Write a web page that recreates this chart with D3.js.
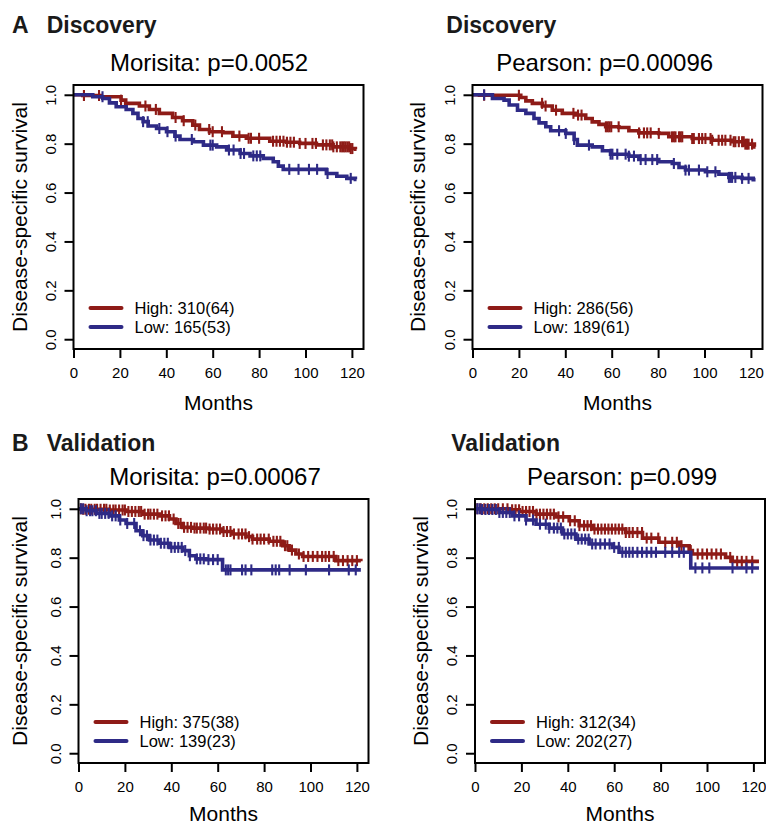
<!DOCTYPE html>
<html>
<head>
<meta charset="utf-8">
<script src="https://cdn.jsdelivr.net/npm/d3@7"></script>
<style>
  body { margin: 0; background: #fff; }
  svg { display: block; font-family: "Liberation Sans", Arial, sans-serif; }
</style>
</head>
<body>
<div id="chart"></div>
<script>
// ---- data: KM steps [month, survival] and censor times ----
var discMorHigh = [[0,1],[4,0.997],[12,0.992],[20.5,0.978],[22.5,0.965],[28.4,0.954],[32.7,0.94],[37,0.924],
  [42.7,0.907],[47,0.894],[51.4,0.876],[54.3,0.858],[58.6,0.849],[64.4,0.845],[68.7,0.831],[74.5,0.822],
  [84.6,0.81],[91.8,0.806],[97.5,0.801],[104.7,0.795],[111.9,0.787],[119,0.78],[121.5,0.777],[122,0.777]];
var discMorHighCens = [4.5,11,20.5,31,35.5,44,47.5,52.5,58.5,60,64,71.5,75.5,76.5,80,86,87.5,89,90.5,92,93.5,
  95,97.5,100,103,104.5,107.5,109,110.5,111.5,112,113.5,115,115.8,116.5,117.2,118,118.8,119.5,120.2];
var discMorLow = [[0,1],[8.3,0.992],[12.6,0.985],[15.5,0.967],[18.4,0.951],[22.7,0.94],[25.6,0.924],[27.8,0.903],
  [30,0.89],[32.2,0.872],[35.8,0.862],[40.1,0.849],[43.7,0.831],[45.9,0.817],[51.7,0.808],[56,0.794],
  [61.7,0.787],[66,0.774],[71.8,0.76],[76.1,0.75],[81.8,0.74],[86.1,0.726],[88.3,0.708],[90.4,0.695],
  [109,0.678],[113.5,0.667],[117.8,0.658],[121.5,0.654],[122,0.654]];
var discMorLowCens = [12.5,30,32,37,40.5,44,51,59,60,67,69,72,73.5,77.5,79,80.5,93,97,101.5,105,109.5,119.5];

var discPeaHigh = [[0,1],[3,0.998],[20.8,0.989],[23,0.975],[25.8,0.965],[30.1,0.954],[34.4,0.937],[38.7,0.924],
  [44.5,0.917],[48.8,0.903],[51.6,0.889],[54.5,0.879],[57.4,0.869],[63.1,0.866],[67.4,0.853],[71.7,0.844],
  [80.3,0.842],[84.6,0.828],[94.7,0.821],[103.3,0.814],[111.9,0.808],[117.6,0.798],[121.5,0.787],[122,0.787]];
var discPeaHighCens = [5,20,30,31.5,36,43.5,45.5,47,57.5,58.3,59,59.8,63,71.8,73.9,75.3,76.8,80.3,86,86.8,87.5,
  89,89.7,90.4,94.7,95.4,97.6,99,100.4,102.6,103.3,106.1,107.6,109,111.2,112.6,113.3,114.8,116.2,116.9,
  117.6,118.3,119,120.5];
var discPeaLow = [[0,1],[8.6,0.985],[13.6,0.978],[15.8,0.958],[19.4,0.937],[23,0.924],[26.5,0.903],[28.7,0.885],
  [31.6,0.869],[33.7,0.853],[40.2,0.842],[43.8,0.817],[45.2,0.794],[51.6,0.787],[56,0.771],[59.5,0.757],
  [67.4,0.749],[71.7,0.735],[80.3,0.726],[86.1,0.719],[89,0.703],[91.8,0.692],[100.4,0.685],[106.2,0.675],
  [110.5,0.662],[116.2,0.658],[121,0.653],[122,0.653]];
var discPeaLowCens = [5,37.3,40.2,43.8,50.2,59.5,60.3,62.4,66,67.4,69.6,72.5,74.6,77.5,79.6,86.8,91.8,93.3,
  97.6,101.2,104.7,110.5,111.2,111.9,113.3,116.2,119];

var valMorHigh = [[0,1],[2,0.998],[13.3,0.995],[20.5,0.989],[27.7,0.978],[34.9,0.971],[39.2,0.958],[42,0.94],
  [44.9,0.924],[49.2,0.921],[56.4,0.917],[62.1,0.907],[66.4,0.897],[72.2,0.886],[75,0.876],[82.2,0.867],
  [88,0.849],[90.8,0.831],[93.7,0.815],[96.6,0.805],[110.9,0.788],[121.7,0.785]];
var valMorHighCens = [1,2,3,4.5,5.5,7,8,9.5,11,12,13.5,15,16,17.5,19,20,21.5,23,24.5,26,27,28.5,30,31,32.5,34,
  36,37.5,39,41,43,44,45.5,47,48.5,50,51,52.5,54,55,56.5,58,59.5,61,62.5,64,65.5,67,69,70.5,72,73.5,75,77,
  78.5,80,82,84,85.5,87,89,90,92,95,97,99,101,103,105,106.5,108,110,112,114,116,118,120];
var valMorLow = [[0,1],[3.3,0.992],[7.6,0.981],[13.3,0.971],[17.6,0.954],[20.5,0.94],[24.8,0.91],[27.7,0.89],
  [30.6,0.872],[34.9,0.859],[39.2,0.842],[44.9,0.829],[47.8,0.808],[50.6,0.795],[55,0.792],[62.1,0.75],
  [121.7,0.75]];
var valMorLowCens = [1,2,3.5,5,6,7.5,9,10,11.5,13,14.5,16,18,21,24,26.5,28,29.5,31,32.5,34,35.5,37,38.5,40,41.5,
  43,44.5,46,48,51,52.5,54,56,58,60,63.5,64.5,65.5,70.5,72,74.5,83.5,85,86.5,91,98,108,116.5,119.5];

var valPeaHigh = [[0,1],[14.8,0.996],[19.1,0.989],[26.3,0.978],[34.9,0.967],[40.6,0.951],[44.9,0.931],
  [50.6,0.917],[65,0.903],[72.2,0.88],[79.3,0.863],[88,0.849],[92.3,0.829],[93.7,0.815],[108,0.801],
  [110.9,0.785],[122.4,0.785]];
var valPeaHighCens = [1,2.5,4,5.5,7,8.5,10,12,14,16,17.5,19,20.5,22,23.5,25,26.5,28,29.5,31,32.5,34,36,38,41,43,
  45,47,48.5,50,51.5,53,54.5,56,57.5,59,60.5,62,63.5,65,66.5,68,70,72,74,76,79,82,85,87,89,93,96,98,100,102,
  104,106,110,113,115,117,119.5];
var valPeaLow = [[0,1],[3,0.997],[10.5,0.985],[16.2,0.971],[22,0.954],[26.3,0.937],[32,0.921],[37.7,0.897],
  [43.5,0.876],[49.2,0.856],[59.3,0.842],[62.1,0.822],[93,0.758],[122.4,0.758]];
var valPeaLowCens = [1,2,3,4.5,6,7.5,9,10.5,12,13.5,15,17,19,22,25,28,30.5,32,34,35.5,37,38.5,40,41.5,43,44.5,
  46,47.5,49,50.5,52,54,56,58,60,62,63.5,65,66.5,68,70,72,74,76,78,82,85,88,90,95,98,101,111,117,119.5];

var xTicks = [0, 20, 40, 60, 80, 100, 120];
var yTicks = [0, 0.2, 0.4, 0.6, 0.8, 1.0];
var groups = ["High", "Low"];
var colors = ["#8e1b17", "#2e2a86"];

// panel layout
var panels = [
  {left: 73.5, top: 85, title: "Morisita: p=0.0052", titleX: 209, ylabX: 27,
   curves: [discMorHigh, discMorLow], cens: [discMorHighCens, discMorLowCens], legend: ["High: 310(64)", "Low: 165(53)"]},
  {left: 472.5, top: 85, title: "Pearson: p=0.00096", titleX: 604.7, ylabX: 425,
   curves: [discPeaHigh, discPeaLow], cens: [discPeaHighCens, discPeaLowCens], legend: ["High: 286(56)", "Low: 189(61)"]},
  {left: 78.5, top: 499, title: "Morisita: p=0.00067", titleX: 215, ylabX: 27,
   curves: [valMorHigh, valMorLow], cens: [valMorHighCens, valMorLowCens], legend: ["High: 375(38)", "Low: 139(23)"]},
  {left: 475, top: 499, title: "Pearson: p=0.099", titleX: 622, ylabX: 428,
   curves: [valPeaHigh, valPeaLow], cens: [valPeaHighCens, valPeaLowCens], legend: ["High: 312(34)", "Low: 202(27)"]}
];
var pw = 290, ph = 264;

var svg = d3.select("#chart").append("svg")
  .attr("width", 766).attr("height", 825);

// section headers
var headers = [
  {t: "A", x: 12, y: 33.3}, {t: "Discovery", x: 46.7, y: 33.3}, {t: "Discovery", x: 446.3, y: 33.3},
  {t: "B", x: 12, y: 450.7}, {t: "Validation", x: 46.7, y: 450.7}, {t: "Validation", x: 451.3, y: 450.7}
];
svg.selectAll("text.hdr").data(headers).enter().append("text")
  .attr("class", "hdr")
  .attr("x", d => d.x).attr("y", d => d.y)
  .style("font-size", "23px").style("font-weight", "bold").style("fill", "#1a1a1a")
  .text(d => d.t);

function stepValue(steps, t) {
  var v = steps[0][1];
  for (var i = 0; i < steps.length; i++) { if (steps[i][0] <= t) v = steps[i][1]; }
  return v;
}

panels.forEach(function(p) {
  var x = d3.scaleLinear().domain([0, 125]).range([p.left, p.left + pw]);
  var y = d3.scaleLinear().domain([-0.04, 1.04]).range([p.top + ph, p.top]);
  var g = svg.append("g");

  // title
  g.append("text").attr("x", p.titleX).attr("y", p.top - 14.5)
    .attr("text-anchor", "middle").style("font-size", "24px").text(p.title);

  // curves: high first, low on top
  var line = d3.line().x(d => x(d[0])).y(d => y(d[1])).curve(d3.curveStepAfter);
  p.curves.forEach(function(c, i) {
    g.append("path").datum(c).attr("d", line)
      .attr("fill", "none").attr("stroke", colors[i]).attr("stroke-width", 3.6);
    g.selectAll(null).data(p.cens[i]).enter().append("line")
      .attr("x1", d => x(d)).attr("x2", d => x(d))
      .attr("y1", d => y(stepValue(c, d)) - 5.5).attr("y2", d => y(stepValue(c, d)) + 5.5)
      .attr("stroke", colors[i]).attr("stroke-width", 2.1);
  });

  // box
  g.append("rect").attr("x", p.left).attr("y", p.top).attr("width", pw).attr("height", ph)
    .attr("fill", "none").attr("stroke", "#000").attr("stroke-width", 2);

  // x axis
  var xa = g.append("g").attr("transform", "translate(0," + (p.top + ph) + ")")
    .call(d3.axisBottom(x).tickValues(xTicks).tickSize(9).tickPadding(6).tickSizeOuter(0));
  xa.select(".domain").remove();
  xa.selectAll("line").attr("stroke-width", 2);
  xa.selectAll("text").style("font-size", "15px").style("font-family", "Liberation Sans, Arial, sans-serif")
    .attr("dy", null).attr("y", 28.5);

  // y axis
  var ya = g.append("g").attr("transform", "translate(" + p.left + ",0)")
    .call(d3.axisLeft(y).tickValues(yTicks).tickFormat(d3.format(".1f")).tickSize(9).tickSizeOuter(0));
  ya.select(".domain").remove();
  ya.selectAll("line").attr("stroke-width", 2);
  ya.selectAll("text").style("font-size", "15px").style("font-family", "Liberation Sans, Arial, sans-serif")
    .attr("x", null).attr("dy", null)
    .attr("text-anchor", "middle")
    .attr("transform", "translate(-18,0) rotate(-90)");

  // axis titles
  g.append("text").attr("x", p.left + pw / 2).attr("y", Math.min(p.top + ph + 61, 821))
    .attr("text-anchor", "middle").style("font-size", "21px").text("Months");
  g.append("text").attr("transform", "translate(" + p.ylabX + "," + (p.top + ph / 2) + ") rotate(-90)")
    .attr("text-anchor", "middle").style("font-size", "21px").text("Disease-specific survival");

  // legend
  var lg = g.selectAll("g.leg").data(groups).enter().append("g")
    .attr("transform", (d, i) => "translate(" + (p.left + 17) + "," + (p.top + ph - 41 + i * 19) + ")");
  lg.append("line").attr("x1", 0).attr("x2", 31).attr("y1", 0).attr("y2", 0)
    .attr("stroke", (d, i) => colors[i]).attr("stroke-width", 4).attr("stroke-linecap", "round");
  lg.append("text").attr("x", 44).attr("y", 6).style("font-size", "16.5px")
    .text((d, i) => p.legend[i]);
});
</script>
</body>
</html>
